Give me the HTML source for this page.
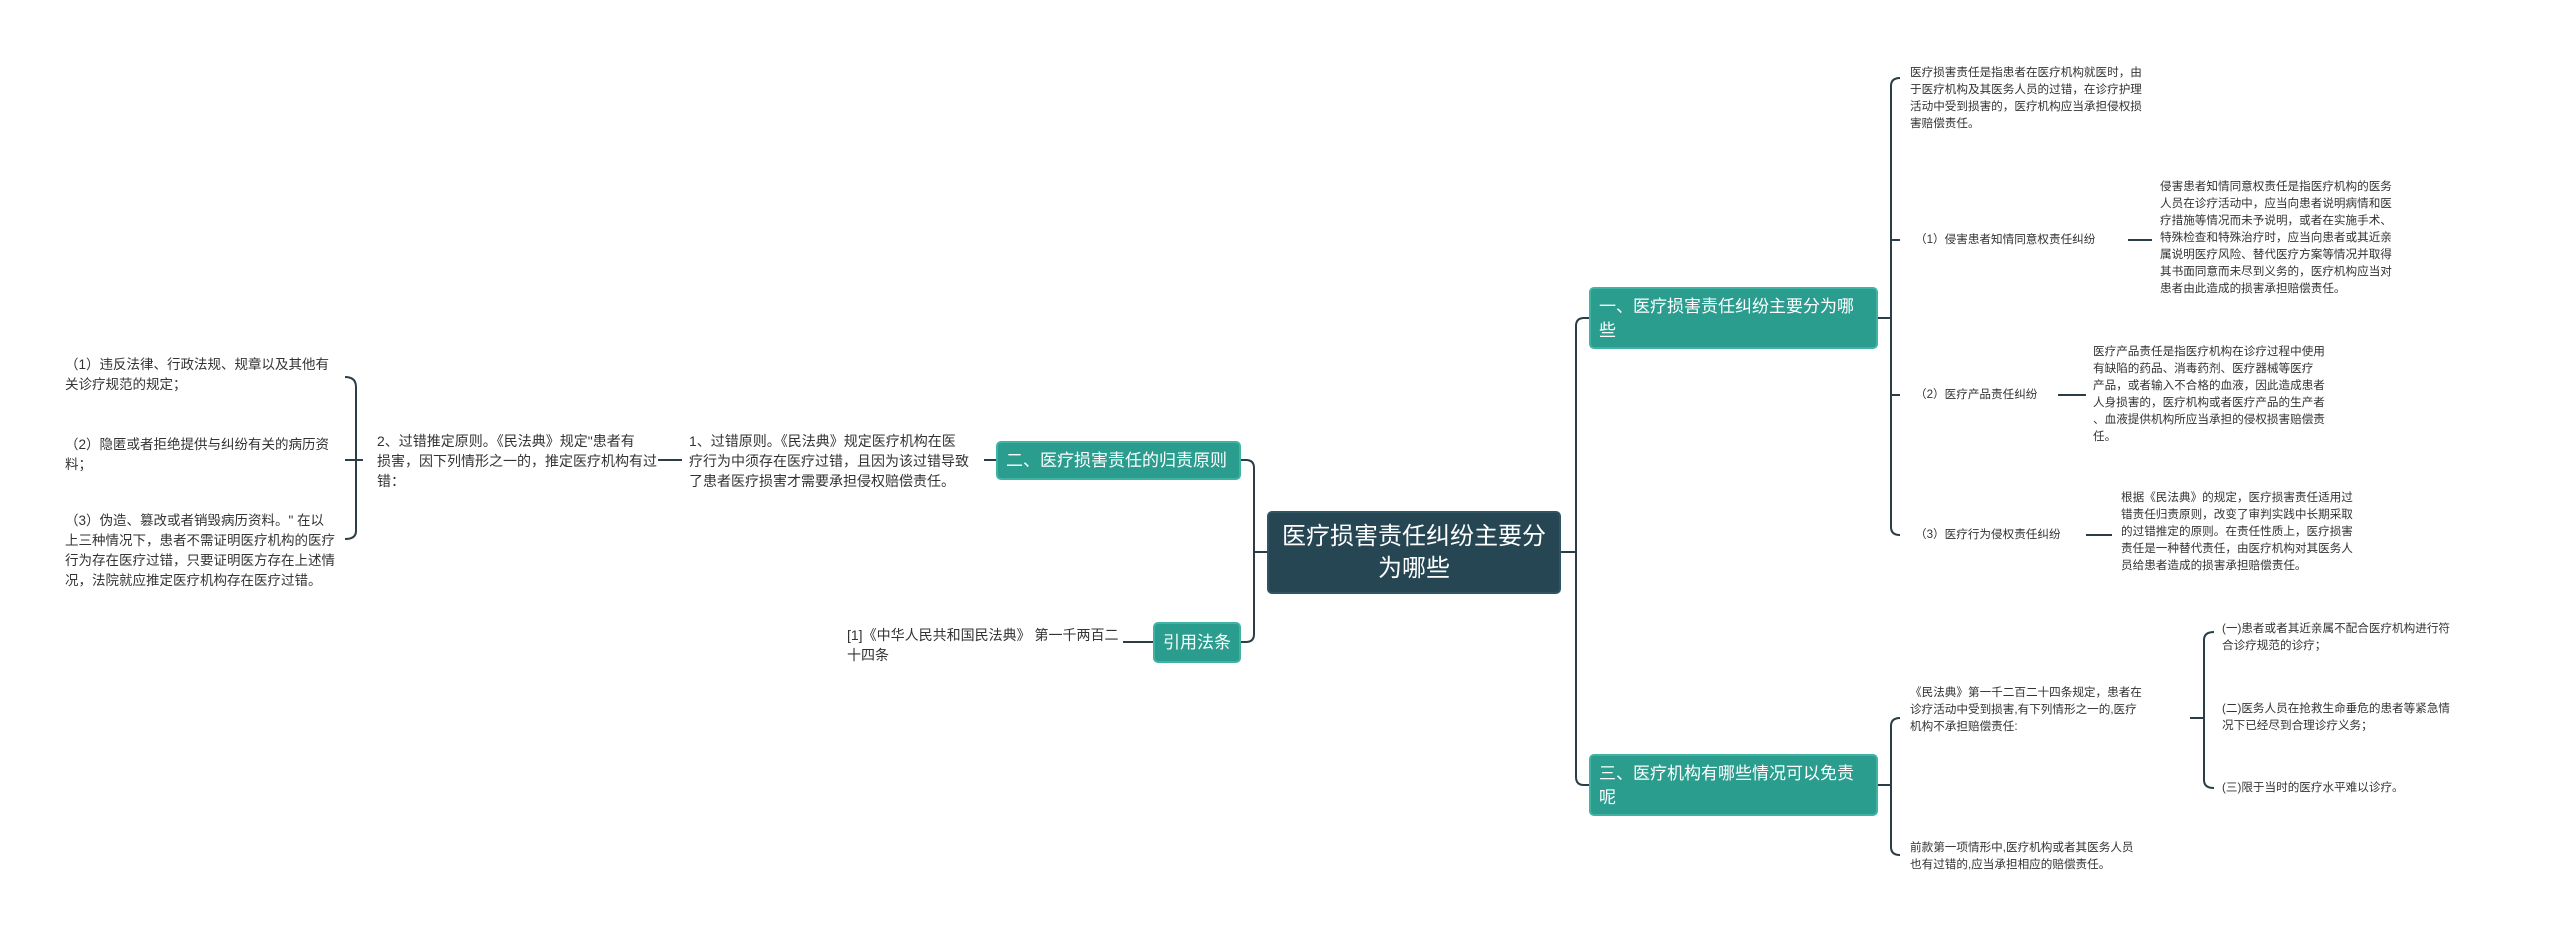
<!DOCTYPE html>
<html><head><meta charset="utf-8"><style>
body{margin:0;width:2560px;height:940px;background:#fff;position:relative;overflow:hidden;font-family:"Liberation Sans","Noto Sans CJK SC",sans-serif;}
.t{position:absolute;white-space:nowrap;color:#333;}
.r{font-size:11.6px;line-height:17px;}
.l{font-size:13.5px;line-height:20px;}
.m{font-size:14px;line-height:20px;}
.n{position:absolute;color:#fff;border-radius:5px;box-sizing:border-box;}
.g{background:#2a9d8f;border:2px solid #3fb3a4;}
svg{position:absolute;left:0;top:0;}
</style></head><body>
<svg width="2560" height="940" fill="none" stroke="#2b3d46" stroke-width="2">
<path d="M1561 552H1576M1589 318H1584Q1576 318 1576 326V777Q1576 785 1584 785H1589"/>
<path d="M1878 318H1891M1900 78Q1891 78 1891 86V527Q1891 535 1900 535M1891 240H1900M1891 395H1900"/>
<path d="M2128 240H2152M2058 395H2086M2086 535H2112"/>
<path d="M1878 785H1891M1900 718Q1891 718 1891 726V847Q1891 855 1900 855"/>
<path d="M2190 718H2204M2214 632Q2204 632 2204 640V780Q2204 788 2214 788"/>
<path d="M1267 552H1254M1241 460H1246Q1254 460 1254 468V634Q1254 642 1246 642H1241"/>
<path d="M996 460H984M682 460H658M1153 642H1123"/>
<path d="M363 460H356M345 377Q356 377 356 387V531Q356 539 345 539M356 460H345"/>
</svg>
<div class="n" style="left:1267px;top:511px;width:294px;height:83px;background:#264653;border:2px solid #2f5563;font-size:24px;line-height:32px;text-align:center;padding-top:8px;">医疗损害责任纠纷主要分<br>为哪些</div>
<div class="n g" style="left:1589px;top:287px;width:289px;height:62px;font-size:17px;line-height:24px;padding:6px 0 0 8px;">一、医疗损害责任纠纷主要分为哪<br>些</div>
<div class="n g" style="left:1589px;top:754px;width:289px;height:62px;font-size:17px;line-height:24px;padding:6px 0 0 8px;">三、医疗机构有哪些情况可以免责<br>呢</div>
<div class="n g" style="left:996px;top:441px;width:245px;height:39px;font-size:17px;line-height:35px;padding-left:8px;">二、医疗损害责任的归责原则</div>
<div class="n g" style="left:1153px;top:622px;width:88px;height:41px;font-size:17px;line-height:37px;text-align:center;">引用法条</div>

<div class="t r" style="left:1910px;top:64px;">医疗损害责任是指患者在医疗机构就医时，由<br>于医疗机构及其医务人员的过错，在诊疗护理<br>活动中受到损害的，医疗机构应当承担侵权损<br>害赔偿责任。</div>
<div class="t r" style="left:1915px;top:231px;">（1）侵害患者知情同意权责任纠纷</div>
<div class="t r" style="left:2160px;top:178px;">侵害患者知情同意权责任是指医疗机构的医务<br>人员在诊疗活动中，应当向患者说明病情和医<br>疗措施等情况而未予说明，或者在实施手术、<br>特殊检查和特殊治疗时，应当向患者或其近亲<br>属说明医疗风险、替代医疗方案等情况并取得<br>其书面同意而未尽到义务的，医疗机构应当对<br>患者由此造成的损害承担赔偿责任。</div>
<div class="t r" style="left:1915px;top:386px;">（2）医疗产品责任纠纷</div>
<div class="t r" style="left:2093px;top:343px;">医疗产品责任是指医疗机构在诊疗过程中使用<br>有缺陷的药品、消毒药剂、医疗器械等医疗<br>产品，或者输入不合格的血液，因此造成患者<br>人身损害的，医疗机构或者医疗产品的生产者<br>、血液提供机构所应当承担的侵权损害赔偿责<br>任。</div>
<div class="t r" style="left:1915px;top:526px;">（3）医疗行为侵权责任纠纷</div>
<div class="t r" style="left:2121px;top:489px;">根据《民法典》的规定，医疗损害责任适用过<br>错责任归责原则，改变了审判实践中长期采取<br>的过错推定的原则。在责任性质上，医疗损害<br>责任是一种替代责任，由医疗机构对其医务人<br>员给患者造成的损害承担赔偿责任。</div>
<div class="t r" style="left:1910px;top:684px;">《民法典》第一千二百二十四条规定，患者在<br>诊疗活动中受到损害,有下列情形之一的,医疗<br>机构不承担赔偿责任:</div>
<div class="t r" style="left:2222px;top:620px;">(一)患者或者其近亲属不配合医疗机构进行符<br>合诊疗规范的诊疗；</div>
<div class="t r" style="left:2222px;top:700px;">(二)医务人员在抢救生命垂危的患者等紧急情<br>况下已经尽到合理诊疗义务；</div>
<div class="t r" style="left:2222px;top:779px;">(三)限于当时的医疗水平难以诊疗。</div>
<div class="t r" style="left:1910px;top:839px;">前款第一项情形中,医疗机构或者其医务人员<br>也有过错的,应当承担相应的赔偿责任。</div>

<div class="t m" style="left:689px;top:431px;">1、过错原则。《民法典》规定医疗机构在医<br>疗行为中须存在医疗过错，且因为该过错导致<br>了患者医疗损害才需要承担侵权赔偿责任。</div>
<div class="t m" style="left:377px;top:431px;">2、过错推定原则。《民法典》规定"患者有<br>损害，因下列情形之一的，推定医疗机构有过<br>错：</div>
<div class="t l" style="left:65px;top:355px;">（1）违反法律、行政法规、规章以及其他有<br>关诊疗规范的规定；</div>
<div class="t l" style="left:65px;top:435px;">（2）隐匿或者拒绝提供与纠纷有关的病历资<br>料；</div>
<div class="t l" style="left:65px;top:511px;">（3）伪造、篡改或者销毁病历资料。" 在以<br>上三种情况下，患者不需证明医疗机构的医疗<br>行为存在医疗过错，只要证明医方存在上述情<br>况，法院就应推定医疗机构存在医疗过错。</div>
<div class="t m" style="left:847px;top:625px;">[1]《中华人民共和国民法典》 第一千两百二<br>十四条</div>
</body></html>
